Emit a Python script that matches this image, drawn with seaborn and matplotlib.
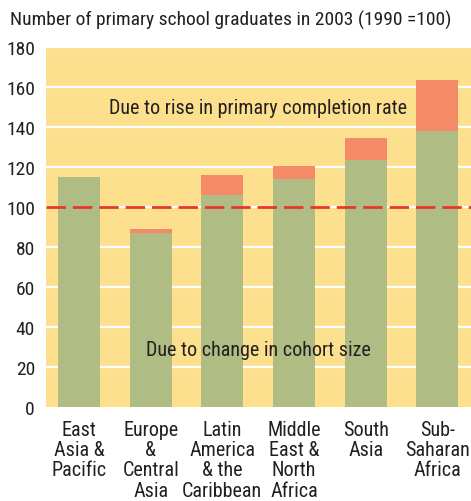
import pandas as pd
import matplotlib.pyplot as plt
import seaborn as sns

regions = [
    "East\nAsia &\nPacific",
    "Europe\n&\nCentral\nAsia",
    "Latin\nAmerica\n& the\nCaribbean",
    "Middle\nEast &\nNorth\nAfrica",
    "South\nAsia",
    "Sub-\nSaharan\nAfrica",
]
cohort_size = [115, 87, 106, 114, 123.5, 138]
total_graduates = [115, 89, 116, 120.5, 134.5, 163.5]
y_ticks = [0, 20, 40, 60, 80, 100, 120, 140, 160, 180]

GREEN = "#AFBD84"
ORANGE = "#F48A67"
BG = "#FDE08E"
RED = "#E8372A"
TXT = "#231F20"

sns.set_style("white")
plt.rcParams["font.family"] = ["Roboto Condensed", "Liberation Sans Narrow", "DejaVu Sans"]

df = pd.DataFrame(
    {"region": regions, "cohort": cohort_size, "total": total_graduates}
)

fig = plt.figure(figsize=(4.71, 5.02), dpi=100)
ax = fig.add_axes([46 / 471, 1 - 408 / 502, 1 - 46 / 471, 360 / 502])
ax.set_facecolor(BG)

for y in y_ticks[1:]:
    ax.axhline(y, color="white", lw=1.6, zorder=0.5)

sns.barplot(data=df, x="region", y="total", color=ORANGE, width=0.585,
            saturation=1, linewidth=0, ax=ax, zorder=2)
sns.barplot(data=df, x="region", y="cohort", color=GREEN, width=0.585,
            saturation=1, linewidth=0, ax=ax, zorder=3)

ax.axhline(100, color=RED, lw=2, dashes=(7, 2.5), zorder=4)

ax.set_ylim(0, 180)
ax.set_xlim(-0.46, 5.47)
ax.set_yticks(y_ticks)
ax.tick_params(axis="both", length=0, colors=TXT)
ax.tick_params(axis="y", pad=8, labelsize=14)
ax.tick_params(axis="x", pad=9, labelsize=14.5)
for lbl in ax.get_xticklabels():
    lbl.set_linespacing(1.1)
ax.set_xlabel("")
ax.set_ylabel("")
for s in ax.spines.values():
    s.set_visible(False)

ax.text(2.5, 149.5, "Due to rise in primary completion rate", ha="center",
        va="center", fontsize=14.5, color=TXT, zorder=5)
ax.text(2.5, 29, "Due to change in cohort size", ha="center", va="center",
        fontsize=14.5, color=TXT, zorder=5)

fig.text(10 / 471, 1 - 20 / 502, "Number of primary school graduates in 2003 (1990 =100)",
         ha="left", va="center", fontsize=14, color=TXT)

fig.savefig("out.png", dpi=100)
